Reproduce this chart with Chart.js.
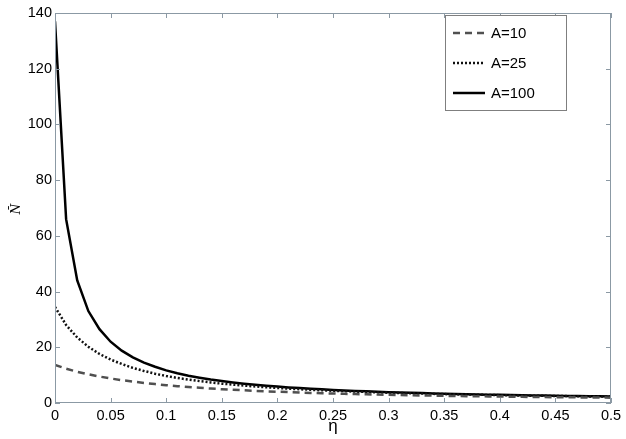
<!DOCTYPE html>
<html lang="en">
<head>
<meta charset="utf-8">
<title>N bar vs eta</title>
<script src="https://cdn.jsdelivr.net/npm/chart.js@4.4.1/dist/chart.umd.min.js"></script>
<style>
  html, body { margin: 0; padding: 0; background: #fff; }
  #wrap { width: 626px; height: 439px; }
</style>
</head>
<body>
<div id="wrap"><canvas id="lineChart" width="626" height="439"></canvas></div>
<script>
// eta sampled every 0.01
const eta = [0,0.01,0.02,0.03,0.04,0.05,0.06,0.07,0.08,0.09,0.1,0.11,0.12,0.13,0.14,0.15,0.16,0.17,0.18,0.19,0.2,
  0.21,0.22,0.23,0.24,0.25,0.26,0.27,0.28,0.29,0.3,0.31,0.32,0.33,0.34,0.35,0.36,0.37,0.38,0.39,0.4,
  0.41,0.42,0.43,0.44,0.45,0.46,0.47,0.48,0.49,0.5];

const nA10 = [13.7,12.3,11.2,10.3,9.5,8.8,8.2,7.7,7.2,6.8,6.4,6.05,5.75,5.45,5.2,4.95,4.75,4.55,4.35,4.2,4.05,
  3.9,3.76,3.63,3.51,3.4,3.29,3.19,3.1,3.01,2.93,2.85,2.78,2.71,2.64,2.58,2.52,2.46,2.41,2.36,2.31,
  2.26,2.22,2.17,2.13,2.09,2.05,2.02,1.98,1.95,1.92];

const nA25 = [34.5,28,23.5,20.2,17.6,15.6,14,12.6,11.5,10.5,9.7,9,8.4,7.85,7.4,6.95,6.6,6.25,5.95,5.65,5.4,
  5.15,4.95,4.75,4.55,4.4,4.25,4.1,3.95,3.82,3.7,3.59,3.48,3.38,3.29,3.2,3.12,3.04,2.96,2.89,2.82,
  2.75,2.69,2.63,2.57,2.52,2.47,2.42,2.37,2.33,2.28];

const nA100 = [137,66,44,33,26.5,22,18.8,16.4,14.5,13,11.7,10.7,9.8,9.1,8.45,7.9,7.4,6.95,6.55,6.2,5.9,
  5.6,5.35,5.1,4.9,4.7,4.5,4.35,4.2,4.05,3.9,3.78,3.66,3.55,3.45,3.35,3.25,3.16,3.08,3,2.92,
  2.85,2.78,2.72,2.66,2.6,2.54,2.49,2.44,2.39,2.34];

const seriesLabels = ["A=10", "A=25", "A=100"];
const xTicks = [0,0.05,0.1,0.15,0.2,0.25,0.3,0.35,0.4,0.45,0.5];
const yTicks = [0,20,40,60,80,100,120,140];

const axisColor = '#8b99a4';
const fontFam = '"Liberation Sans", Arial, sans-serif';

function pts(ys){
  return eta.map((x, i) => ({x: x, y: ys[i]}));
}

// frame, inward ticks, axis titles and legend box (MATLAB look)
const matlabFrame = {
  id: 'matlabFrame',
  afterDraw(chart){
    const ctx = chart.ctx;
    const a = chart.chartArea;
    const xs = chart.scales.x, ys = chart.scales.y;
    ctx.save();
    ctx.strokeStyle = axisColor;
    ctx.lineWidth = 1;
    ctx.strokeRect(a.left + 0.5, a.top + 0.5, a.right - a.left - 1, a.bottom - a.top - 1);
    const tl = 5;
    ctx.beginPath();
    xTicks.forEach(v => {
      const px = Math.round(xs.getPixelForValue(v)) + 0.5;
      ctx.moveTo(px, a.bottom); ctx.lineTo(px, a.bottom - tl);
      ctx.moveTo(px, a.top); ctx.lineTo(px, a.top + tl);
    });
    yTicks.forEach(v => {
      const py = Math.round(ys.getPixelForValue(v)) + 0.5;
      ctx.moveTo(a.left, py); ctx.lineTo(a.left + tl, py);
      ctx.moveTo(a.right, py); ctx.lineTo(a.right - tl, py);
    });
    ctx.stroke();

    // axis titles
    ctx.fillStyle = '#000';
    ctx.font = '17px ' + fontFam;
    ctx.textAlign = 'center';
    ctx.textBaseline = 'middle';
    ctx.fillText('\u03b7', (a.left + a.right) / 2, 426);
    ctx.save();
    ctx.translate(17, 209);
    ctx.rotate(-Math.PI / 2);
    ctx.font = 'italic 12px "DejaVu Serif", serif';
    ctx.fillText('N\u0304', 0, 0);
    ctx.restore();

    // legend
    const bx = 445, by = 15, bw = 121, bh = 95;
    ctx.fillStyle = '#fff';
    ctx.fillRect(bx, by, bw, bh);
    ctx.strokeStyle = '#7f7f7f';
    ctx.strokeRect(bx + 0.5, by + 0.5, bw, bh);
    chart.data.datasets.forEach((ds, i) => {
      const y = by + 18 + i * 30;
      ctx.save();
      ctx.strokeStyle = ds.borderColor;
      ctx.lineWidth = ds.borderWidth;
      ctx.setLineDash(ds.borderDash || []);
      ctx.beginPath();
      ctx.moveTo(bx + 8, y); ctx.lineTo(bx + 40, y);
      ctx.stroke();
      ctx.restore();
      ctx.fillStyle = '#000';
      ctx.font = '15px ' + fontFam;
      ctx.textAlign = 'left';
      ctx.fillText(ds.label, bx + 46, y + 1);
    });
    ctx.restore();
  }
};

const config = {
  type: 'line',
  data: {
    datasets: [
      { label: seriesLabels[0], data: pts(nA10), borderColor: '#505050', borderWidth: 2.5, borderDash: [7, 5] },
      { label: seriesLabels[1], data: pts(nA25), borderColor: '#111111', borderWidth: 2.5, borderDash: [2, 2] },
      { label: seriesLabels[2], data: pts(nA100), borderColor: '#000000', borderWidth: 2.5 }
    ]
  },
  options: {
    responsive: false,
    animation: false,
    devicePixelRatio: 1,
    layout: { padding: { top: 13, right: 15, left: 0, bottom: 0 } },
    elements: { point: { radius: 0 }, line: { tension: 0, fill: false } },
    plugins: { legend: { display: false }, tooltip: { enabled: false } },
    scales: {
      x: {
        type: 'linear', min: 0, max: 0.5,
        afterFit(s){ s.height = 36; },
        afterBuildTicks(s){ s.ticks = xTicks.map(v => ({value: v})); },
        grid: { display: false, drawTicks: false },
        border: { display: false },
        ticks: {
          color: '#000', padding: 4, maxRotation: 0, autoSkip: false,
          font: { family: fontFam, size: 14.5 },
          callback: v => String(+v.toFixed(2))
        }
      },
      y: {
        type: 'linear', min: 0, max: 140,
        afterFit(s){ s.width = 55; },
        afterBuildTicks(s){ s.ticks = yTicks.map(v => ({value: v})); },
        grid: { display: false, drawTicks: false },
        border: { display: false },
        ticks: {
          color: '#000', padding: 3, autoSkip: false,
          font: { family: fontFam, size: 14.5 }
        }
      }
    }
  },
  plugins: [matlabFrame]
};

const myChart = new Chart(document.getElementById('lineChart'), config);
</script>
</body>
</html>
